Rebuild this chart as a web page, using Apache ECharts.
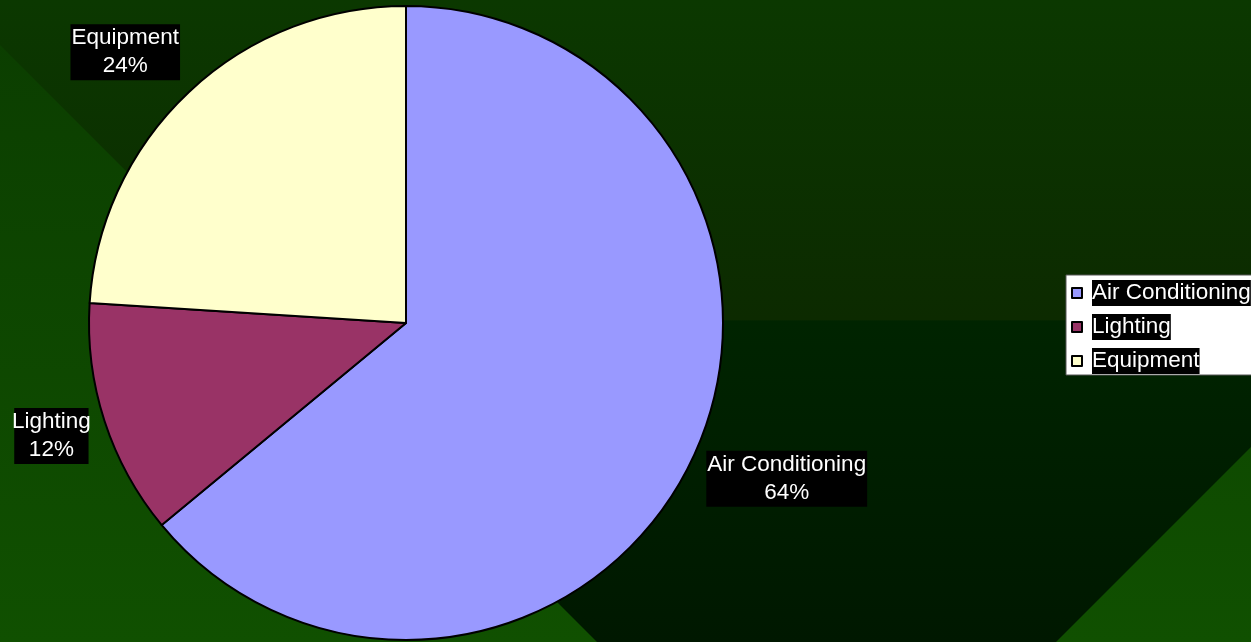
<!DOCTYPE html>
<html>
<head>
<meta charset="utf-8">
<script src="https://cdn.jsdelivr.net/npm/echarts@6/dist/echarts.min.js"></script>
<style>
  html, body { margin: 0; padding: 0; }
  #chart { width: 1251px; height: 642px; }
</style>
</head>
<body>
<div id="chart"></div>
<script>
// data
const categories = ['Air Conditioning', 'Lighting', 'Equipment'];
const shares = [64, 12, 24];
const sliceColors = ['#9999ff', '#993366', '#ffffcc'];

// small nudges so the labels sit where the original placed them
const labelNudge = [[-6, 14], [7, 10], [7, -28]];

const chart = echarts.init(document.getElementById('chart'));
const font = '"Liberation Sans", Arial, sans-serif';

chart.setOption({
  animation: false,
  backgroundColor: new echarts.graphic.LinearGradient(0, 0, 0, 1, [
    { offset: 0, color: '#0b3d00' },
    { offset: 1, color: '#105000' }
  ]),
  // template background shape
  graphic: [{
    type: 'polygon',
    silent: true,
    z: -10,
    shape: { points: [[-60, -15], [1260, -15], [1260, 438], [1056, 642], [597, 642]] },
    style: {
      fill: new echarts.graphic.LinearGradient(0, 0, 0, 642, [
        { offset: 0, color: '#0b3800' },
        { offset: 0.498, color: '#0c2a00' },
        { offset: 0.5, color: '#002400' },
        { offset: 1, color: '#001800' }
      ], true)
    }
  }],
  legend: {
    orient: 'vertical',
    left: 1066,
    top: 275,
    padding: [5, 6, 1, 5],
    itemGap: 8,
    itemWidth: 10,
    itemHeight: 10,
    icon: 'rect',
    backgroundColor: '#ffffff',
    borderColor: '#555',
    borderWidth: 1,
    borderRadius: 0,
    itemStyle: { borderColor: '#000', borderWidth: 2 },
    formatter: name => '{s|}{t|' + name + '}',
    textStyle: {
      rich: {
        s: { width: 5 },
        t: {
          fontFamily: font, fontSize: 22.5, color: '#fff',
          backgroundColor: '#000', lineHeight: 26, height: 26
        }
      }
    },
    data: categories
  },
  series: [{
    type: 'pie',
    center: [406, 323],
    radius: 317,
    startAngle: 90,
    clockwise: true,
    percentPrecision: 0,
    itemStyle: { borderColor: '#000', borderWidth: 2 },
    label: {
      show: true,
      position: 'outside',
      formatter: '{b}\n{d}%',
      fontFamily: font,
      fontSize: 22.5,
      lineHeight: 28,
      color: '#fff',
      backgroundColor: '#000',
      padding: [0, 1],
      overflow: 'none'
    },
    labelLine: { show: false, length: 16, length2: 0 },
    labelLayout: params => {
      const r = params.labelRect;
      const n = labelNudge[params.dataIndex];
      return {
        x: r.x + r.width / 2 + n[0],
        y: r.y + r.height / 2 + n[1],
        align: 'center',
        verticalAlign: 'middle'
      };
    },
    emphasis: { disabled: true },
    data: categories.map((c, i) => ({
      name: c,
      value: shares[i],
      itemStyle: { color: sliceColors[i] }
    }))
  }]
});
</script>
</body>
</html>
